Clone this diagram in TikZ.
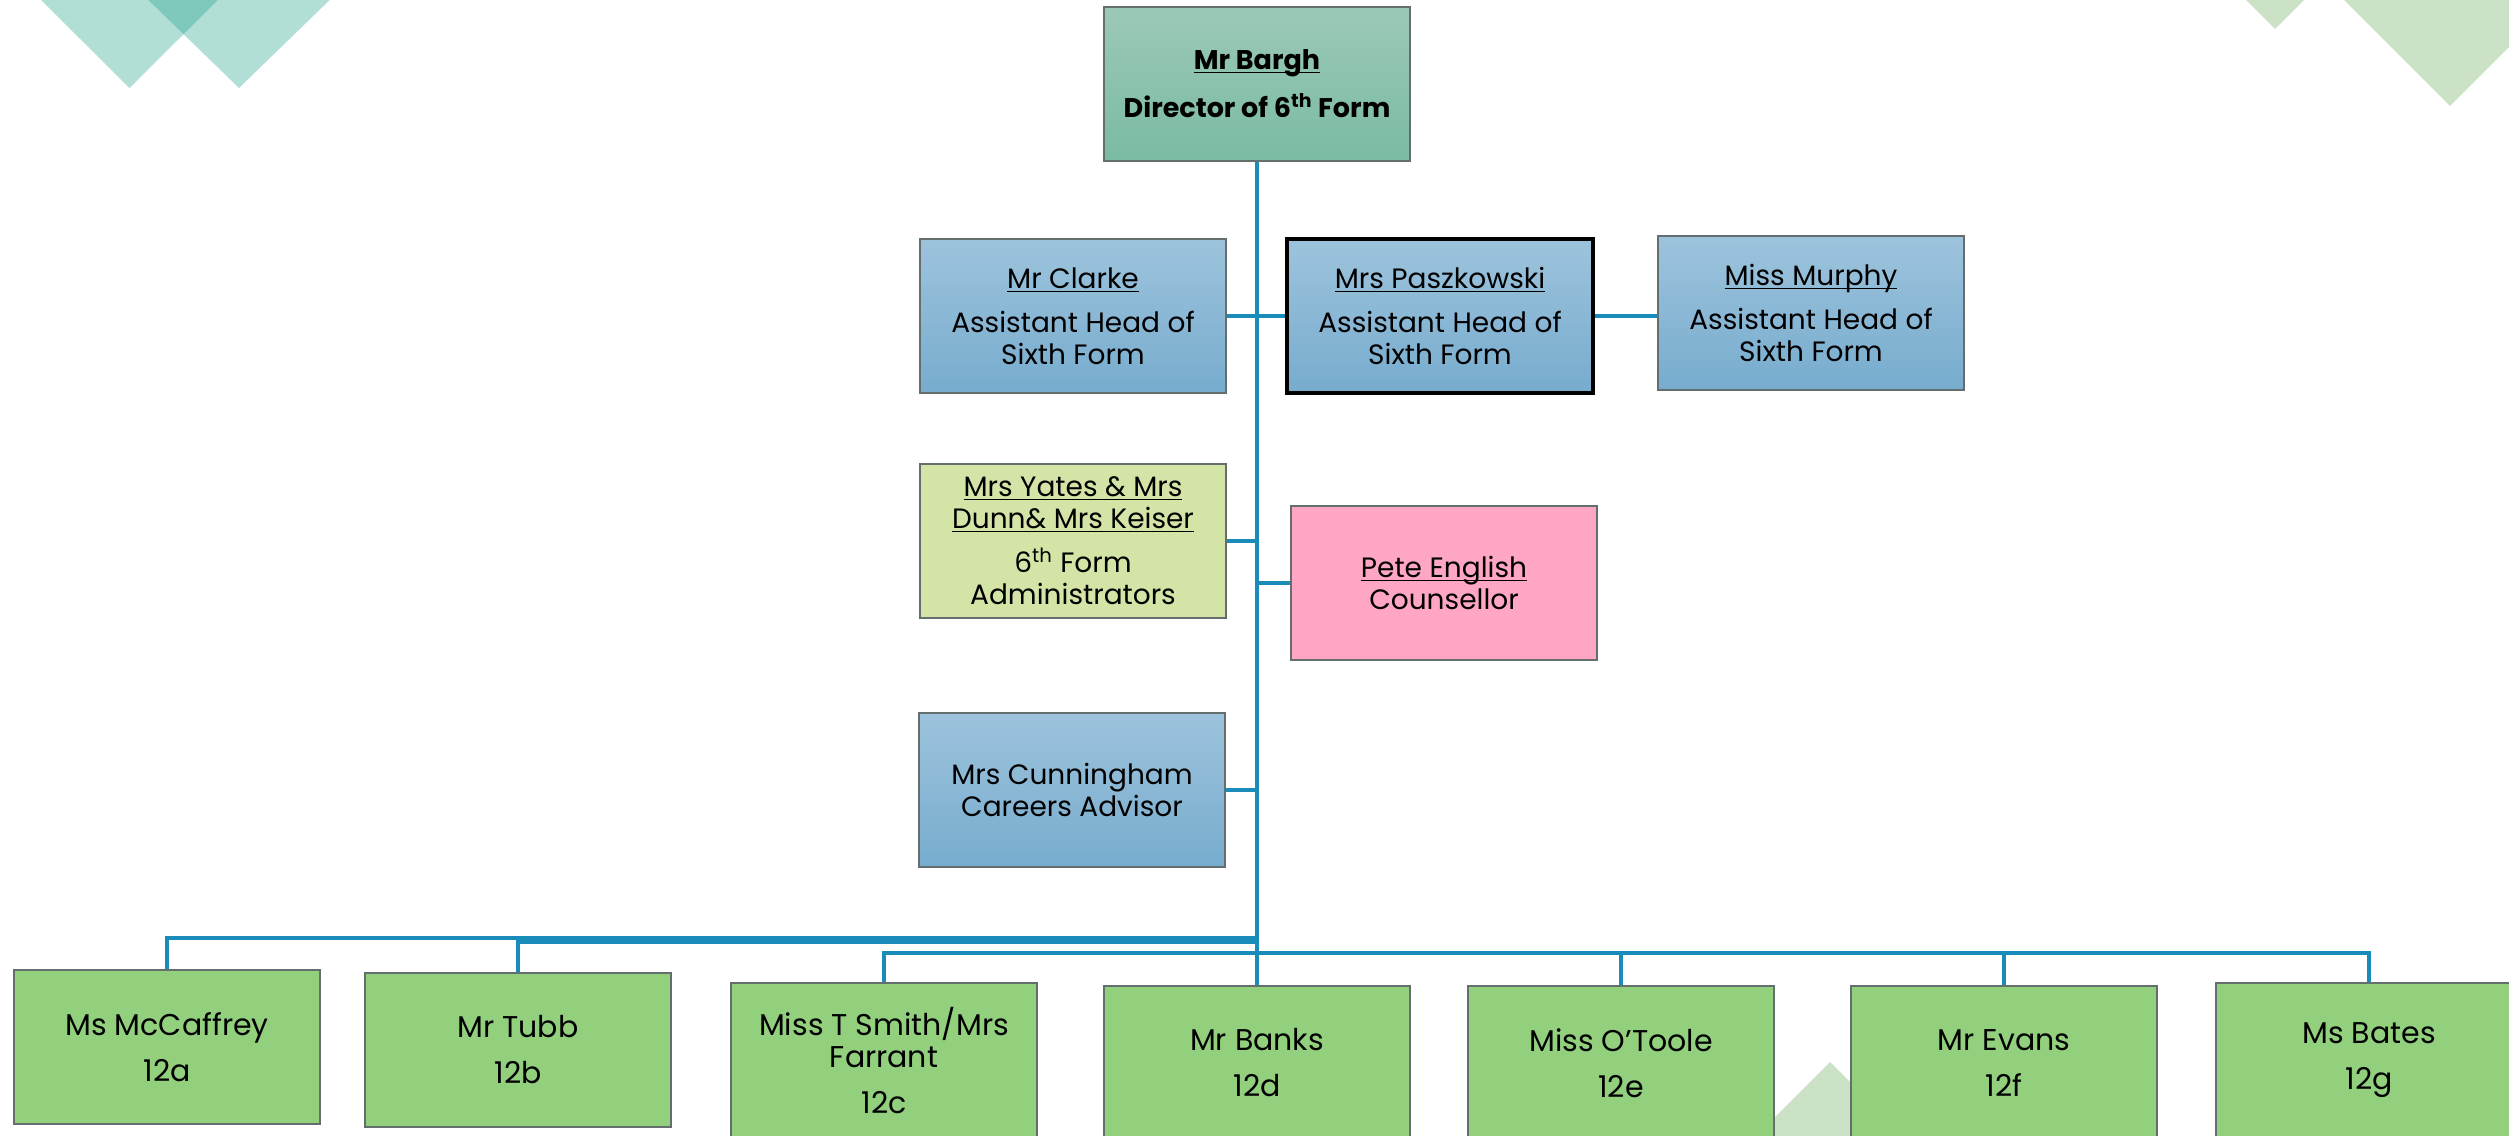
\documentclass[tikz,border=0pt]{standalone}
\usepackage{fontspec}
\setmainfont{Poppins}

\definecolor{linkblue}{RGB}{26,140,186}
\definecolor{boxedge}{RGB}{100,110,110}
\definecolor{headtop}{RGB}{156,201,183}
\definecolor{headbot}{RGB}{122,187,161}
\definecolor{bluetop}{RGB}{157,195,220}
\definecolor{bluebot}{RGB}{119,172,206}
\definecolor{adminfill}{RGB}{211,228,166}
\definecolor{pinkfill}{RGB}{255,166,197}
\definecolor{formfill}{RGB}{146,208,126}
\definecolor{tealdeco}{RGB}{27,160,134}
\definecolor{greendeco}{RGB}{203,226,198}

\newcommand{\uname}[1]{\underline{\raisebox{0pt}[\height][0pt]{#1}}}

\tikzset{
  box/.style={draw=boxedge,line width=1pt,minimum width=153pt,minimum height=77pt,
    inner sep=2pt,align=center,font=\fontsize{14}{16}\selectfont},
  headbox/.style={box,top color=headtop,bottom color=headbot,font=\fontsize{13.5}{16}\selectfont\bfseries},
  bluebox/.style={box,top color=bluetop,bottom color=bluebot},
  adminbox/.style={box,fill=adminfill},
  pinkbox/.style={box,fill=pinkfill},
  formbox/.style={box,fill=formfill,font=\fontsize{15}{16}\selectfont},
  link/.style={draw=linkblue,line width=1.6pt},
}

\begin{document}
\begin{tikzpicture}[x=0.5pt,y=-0.5pt]
\useasboundingbox (0,0) rectangle (2509,1135);

%corner shapes
\fill[tealdeco,fill opacity=0.34] (31,-10) -- (228,-10) -- (129.5,88) -- cycle;
\fill[tealdeco,fill opacity=0.34] (138,-10) -- (340,-10) -- (239,88) -- cycle;
\fill[greendeco] (2236,-10) -- (2314,-10) -- (2275,29) -- cycle;
\fill[greendeco] (2334,-10) -- (2566,-10) -- (2450,106) -- cycle;
\fill[greendeco] (1747,1145) -- (1913,1145) -- (1830,1062) -- cycle;

%top
\node[headbox] (bargh) at (1257,84) {\uname{Mr Bargh}\\[8pt] Director of 6\textsuperscript{th} Form};

%assistant heads
\node[bluebox] (clarke) at (1073,316) {\uname{Mr Clarke}\\[6pt] Assistant Head of\\ Sixth Form};
\node[bluebox,draw=black,line width=2pt] (pasz) at (1440,316) {\uname{Mrs Paszkowski}\\[6pt] Assistant Head of\\ Sixth Form};
\node[bluebox] (murphy) at (1811,313) {\uname{Miss Murphy}\\[6pt] Assistant Head of\\ Sixth Form};

%support staff
\node[adminbox] (yates) at (1073,541) {\uname{Mrs Yates \& Mrs}\\ \uname{Dunn\& Mrs Keiser}\\[6pt] 6\textsuperscript{th} Form\\ Administrators};
\node[pinkbox] (pete) at (1444,583) {\uname{Pete English}\\ Counsellor};
\node[bluebox] (cunn) at (1072,790) {Mrs Cunningham\\ Careers Advisor};

%tutors
\node[formbox] (mccaffrey) at (167,1047) {Ms McCaffrey\\[7pt] 12a};
\node[formbox] (tubb) at (518,1050) {Mr Tubb\\[7pt] 12b};
\node[formbox] (smith) at (884,1060) {Miss T Smith/Mrs\\ Farrant\\[7pt] 12c};
\node[formbox] (banks) at (1257,1063) {Mr Banks\\[7pt] 12d};
\node[formbox] (otoole) at (1621,1063) {Miss O’Toole\\[7pt] 12e};
\node[formbox] (evans) at (2004,1063) {Mr Evans\\[7pt] 12f};
\node[formbox] (bates) at (2369,1060) {Ms Bates\\[7pt] 12g};

\coordinate (busA) at (1257,938);
\coordinate (busB) at (1257,942);
\coordinate (busC) at (1257,953);

%trunk
\draw[link] (bargh.south) -- (banks.north);

%heads
\draw[link] (clarke.east) -- (clarke.east -| bargh.south);
\draw[link] (pasz.west) -- (pasz.west -| bargh.south);
\draw[link] (pasz.east) -- (pasz.east -| murphy.west);

%support
\draw[link] (yates.east) -- (yates.east -| bargh.south);
\draw[link] (pete.west) -- (pete.west -| bargh.south);
\draw[link] (cunn.east) -- (cunn.east -| bargh.south);

%tutors
\draw[link] (busA) -| (mccaffrey.north);
\draw[link] (busB) -| (tubb.north);
\draw[link] (busC) -| (smith.north);
\draw[link] (busC) -| (otoole.north);
\draw[link] (busC) -| (evans.north);
\draw[link] (busC) -| (bates.north);

\end{tikzpicture}
\end{document}
